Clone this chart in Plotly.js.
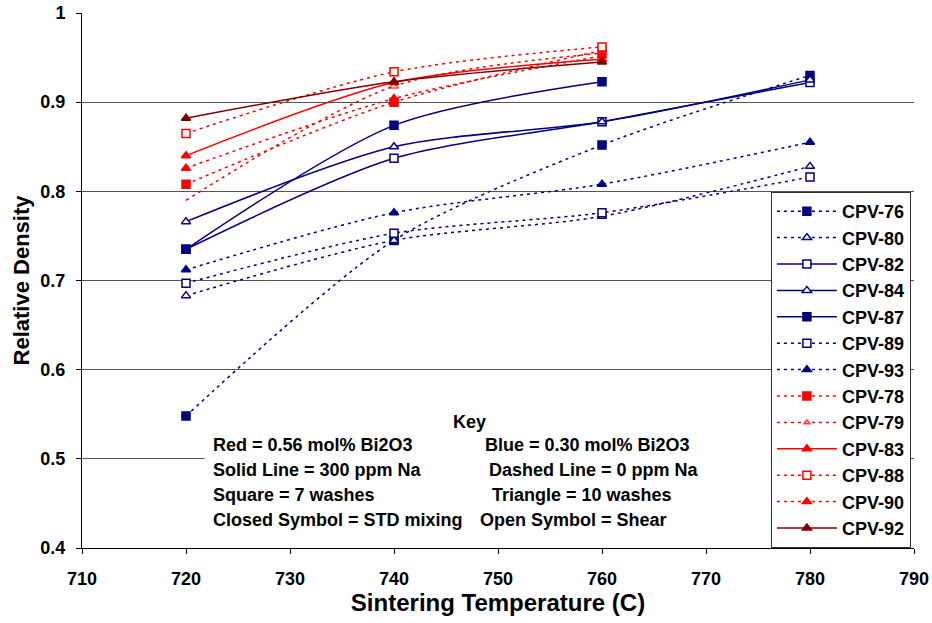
<!DOCTYPE html>
<html><head><meta charset="utf-8">
<script src="https://cdn.plot.ly/plotly-3.0.1.min.js"></script>
<style>body{margin:0;background:#fff}#chart{width:932px;height:623px}</style>
</head><body><div id="chart"></div>
<script>
const temps = [720, 740, 760, 780];
const tempsRed = [720, 740, 760];

const cpv76 = [0.548, 0.745, 0.852, 0.930];
const cpv80 = [0.683, 0.745, 0.772, 0.828];
const cpv82 = [0.735, 0.837, 0.878, 0.922];
const cpv84 = [0.766, 0.850, 0.878, 0.925];
const cpv87 = [0.735, 0.874, 0.923];
const cpv89 = [0.697, 0.753, 0.776, 0.816];
const cpv93 = [0.712, 0.776, 0.808, 0.855];
const cpv78 = [0.808, 0.900, 0.958];
const cpv79 = [0.790, 0.918, 0.955];
const cpv83 = [0.840, 0.922, 0.948];
const cpv88 = [0.865, 0.934, 0.962];
const cpv90 = [0.826, 0.904, 0.952];
const cpv92 = [0.882, 0.923, 0.945];

const xTickVals = [710, 720, 730, 740, 750, 760, 770, 780, 790];
const xTickText = ['710', '720', '730', '740', '750', '760', '770', '780', '790'];
const yTickVals = [0.4, 0.5, 0.6, 0.7, 0.8, 0.9, 1.0];
const yTickText = ['0.4', '0.5', '0.6', '0.7', '0.8', '0.9', '1'];

const BLUE = '#000080', RED = '#FF0000', DRED = '#800000';
const DOT = '3px,4px';

function tr(name, x, y, color, dash, symbol, open, sizes) {
  return {
    type: 'scatter', mode: 'lines+markers', name: '<b>' + name + '</b>', x: x, y: y,
    line: {color: color, width: 1.5, dash: dash, shape: 'spline', smoothing: 0.8},
    marker: {symbol: symbol, size: sizes || 8, color: open ? 'white' : color,
             line: {color: color, width: 1.5}}
  };
}

const data = [
  tr('CPV-76', temps, cpv76, BLUE, DOT, 'square', false),
  tr('CPV-80', temps, cpv80, BLUE, DOT, 'triangle-up', true),
  tr('CPV-82', temps, cpv82, BLUE, 'solid', 'square', true),
  tr('CPV-84', temps, cpv84, BLUE, 'solid', 'triangle-up', true),
  tr('CPV-87', tempsRed, cpv87, BLUE, 'solid', 'square', false),
  tr('CPV-89', temps, cpv89, BLUE, DOT, 'square', true),
  tr('CPV-93', temps, cpv93, BLUE, DOT, 'triangle-up', false),
  tr('CPV-78', tempsRed, cpv78, RED, DOT, 'square', false),
  tr('CPV-79', tempsRed, cpv79, RED, DOT, 'triangle-up', true, [0, 8, 8]),
  tr('CPV-83', tempsRed, cpv83, RED, 'solid', 'triangle-up', false),
  tr('CPV-88', tempsRed, cpv88, RED, DOT, 'square', true),
  tr('CPV-90', tempsRed, cpv90, RED, DOT, 'triangle-up', false),
  tr('CPV-92', tempsRed, cpv92, DRED, 'solid', 'triangle-up', false)
];

const FONT = 'Arial, "Liberation Sans", sans-serif';
const bold = a => a.map(s => '<b>' + s + '</b>');
function ann(text, x, y, xanchor) {
  return {text: '<b>' + text + '</b>', x: x, y: y, xref: 'x', yref: 'y',
          xanchor: xanchor || 'left', yanchor: 'middle', showarrow: false,
          font: {family: FONT, size: 18, color: '#000'}};
}

const layout = {
  width: 932, height: 623,
  margin: {l: 82, r: 18, t: 13, b: 75},
  paper_bgcolor: 'white', plot_bgcolor: 'white',
  font: {family: FONT, color: '#000'},
  showlegend: true,
  legend: {x: 0.828, y: 0.6654, xanchor: 'left', yanchor: 'top',
           bgcolor: 'white', bordercolor: '#333', borderwidth: 1,
           font: {family: FONT, size: 18, color: '#000', weight: 700},
           itemwidth: 60, tracegroupgap: 0},
  xaxis: {range: [710, 790], tickmode: 'array', tickvals: xTickVals, ticktext: bold(xTickText),
          showgrid: false, zeroline: false,
          showline: true, linecolor: '#000', linewidth: 1, ticks: 'outside', ticklen: 5,
          tickcolor: '#000', ticklabelstandoff: 9,
          tickfont: {family: FONT, size: 18, color: '#000', weight: 700},
          title: {text: '<b>Sintering Temperature (C)</b>', font: {family: FONT, size: 24, color: '#000'}, standoff: 6}},
  yaxis: {range: [0.4, 1], tickmode: 'array', tickvals: yTickVals, ticktext: bold(yTickText),
          showgrid: true, gridcolor: '#555', gridwidth: 1,
          zeroline: false, showline: true, linecolor: '#000', linewidth: 1, ticks: 'outside', ticklen: 5,
          tickcolor: '#000', ticklabelstandoff: 7,
          tickfont: {family: FONT, size: 18, color: '#000', weight: 700},
          title: {text: '<b>Relative Density</b>', font: {family: FONT, size: 22, color: '#000'}, standoff: 4}},
  shapes: [{type: 'rect', xref: 'x', yref: 'y', x0: 721.8, x1: 776.3, y0: 0.403, y1: 0.56,
            fillcolor: 'white', line: {width: 0}, layer: 'between'}],
  annotations: [
    ann('Key', 747.3, 0.541, 'center'),
    ann('Red = 0.56 mol% Bi2O3', 722.4, 0.5155),
    ann('Blue = 0.30 mol% Bi2O3', 748.6, 0.5155),
    ann('Solid Line = 300 ppm Na', 722.4, 0.4875),
    ann('Dashed Line = 0 ppm Na', 748.9, 0.4875),
    ann('Square = 7 washes', 722.4, 0.4595),
    ann('Triangle = 10 washes', 749.2, 0.4595),
    ann('Closed Symbol = STD mixing', 722.4, 0.4314),
    ann('Open Symbol = Shear', 748.1, 0.4314)
  ]
};

Plotly.newPlot('chart', data, layout, {displayModeBar: false, staticPlot: true});
</script></body></html>
